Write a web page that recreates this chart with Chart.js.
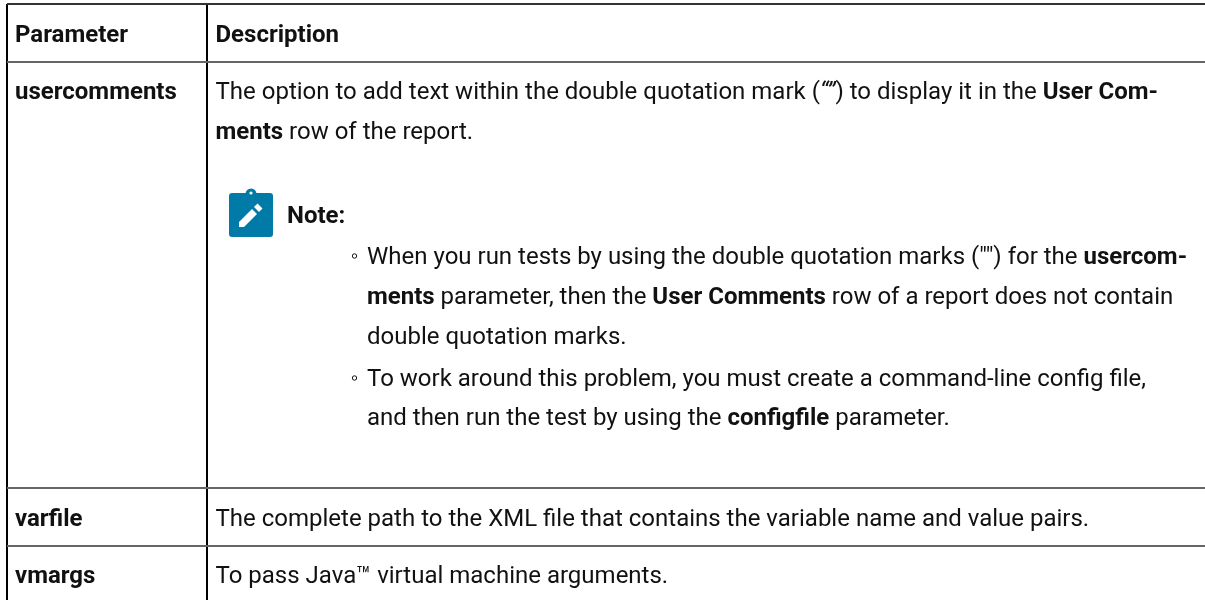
<!DOCTYPE html>
<html><head><meta charset="utf-8">
<style>html,body{margin:0;padding:0;background:#fff}canvas{display:block}</style>
<script src="https://cdn.jsdelivr.net/npm/chart.js@4"></script></head>
<body><canvas id="c" width="1205" height="600"></canvas>
<script>
const columnEdges = [7, 207];
const rowEdges = [4, 62, 488, 546];
const headers = ["Parameter", "Description"];
const parameters = ["usercomments", "varfile", "vmargs"];
const noteLabel = "Note:";
const descriptionLines = [
  [["The option to add text within the double quotation mark (",0],["“”",2],[") to display it in the ",0],["User Com-",1]],
  [["ments",1],[" row of the report.",0]]
];
const noteLines = [
  [["◦ ",0],["When you run tests by using the double quotation marks (\"\") for the ",0],["usercom-",1]],
  [["ments",1],[" parameter, then the ",0],["User Comments",1],[" row of a report does not contain",0]],
  [["double quotation marks.",0]],
  [["◦ ",0],["To work around this problem, you must create a command-line config file,",0]],
  [["and then run the test by using the ",0],["configfile",1],[" parameter.",0]]
];
const varfileText = "The complete path to the XML file that contains the variable name and value pairs.";
const vmargsText = "To pass Java™ virtual machine arguments.";

const FONT = "Roboto, sans-serif", SIZE = 24;
function setFont(ctx, k, size){
  ctx.font = (k===1?"bold ":k===2?"italic ":"") + (size||SIZE) + "px " + FONT;
}
function runs(ctx, x, y, segs){
  for (const [t,k] of segs){ setFont(ctx,k); ctx.fillText(t,x,y); x += ctx.measureText(t).width; }
}
const tablePlugin = {
  id:"tableText",
  afterDraw(chart){
    const ctx = chart.ctx, X = chart.scales.x, Y = chart.scales.y;
    ctx.save();
    ctx.fillStyle = "#111"; ctx.textBaseline = "alphabetic"; ctx.textAlign = "left";
    const c0 = X.getPixelForValue(15), c1 = X.getPixelForValue(215.5);
    setFont(ctx,1);
    ctx.fillText(headers[0], c0, Y.getPixelForValue(42));
    ctx.fillText(headers[1], c1, Y.getPixelForValue(42));
    ctx.fillText(parameters[0], c0, Y.getPixelForValue(99));
    ctx.fillText(parameters[1], c0, Y.getPixelForValue(526));
    ctx.fillText(parameters[2], c0, Y.getPixelForValue(583));
    runs(ctx, c1, Y.getPixelForValue(99), descriptionLines[0]);
    runs(ctx, c1, Y.getPixelForValue(139), descriptionLines[1]);
    // note icon
    ctx.fillStyle = "#007ba7";
    ctx.beginPath(); ctx.roundRect(229,193,44,44,3); ctx.fill();
    ctx.beginPath(); ctx.arc(251,194,5.5,0,Math.PI*2); ctx.fill();
    ctx.fillStyle = "#fff";
    ctx.beginPath(); ctx.arc(251,193,1.6,0,Math.PI*2); ctx.fill();
    ctx.beginPath(); ctx.moveTo(239,222); ctx.lineTo(239,227); ctx.lineTo(244,227);
    ctx.lineTo(257,214); ctx.lineTo(252,209); ctx.closePath(); ctx.fill();
    ctx.beginPath(); ctx.moveTo(254,207); ctx.lineTo(259,212); ctx.lineTo(262.5,208.5); ctx.lineTo(257.5,203.5); ctx.closePath(); ctx.fill();
    ctx.fillStyle = "#111";
    setFont(ctx,1);
    ctx.fillText(noteLabel, 287, 222.5);
    const tx = 367, ys = [264,303.5,344,386,425];
    noteLines.forEach((l,i)=>{
      let segs = l;
      if (l[0][0]==="◦ "){
        ctx.save(); ctx.strokeStyle="#111"; ctx.lineWidth=1;
        ctx.beginPath(); ctx.arc(354.5,ys[i]-8,2.2,0,Math.PI*2); ctx.stroke(); ctx.restore();
        segs = l.slice(1);
      }
      runs(ctx, tx, ys[i], segs);
    });
    setFont(ctx,0);
    ctx.fillText(varfileText, c1, Y.getPixelForValue(526));
    ctx.fillText(vmargsText, c1, Y.getPixelForValue(583));
    ctx.restore();
  }
};
new Chart(document.getElementById("c"),{
  type:"scatter",
  data:{datasets:[{data:[],pointRadius:0}]},
  plugins:[tablePlugin],
  options:{
    responsive:false, animation:false, devicePixelRatio:1,
    layout:{padding:{left:7,top:4,right:0,bottom:0}},
    plugins:{legend:{display:false},tooltip:{enabled:false},title:{display:false}},
    scales:{
      x:{type:"linear",min:7,max:1205,
        afterBuildTicks(s){s.ticks=columnEdges.map(v=>({value:v}));},
        ticks:{display:false},border:{display:false},
        grid:{color:"#000",lineWidth:2,drawTicks:false}},
      y:{type:"linear",min:4,max:600,reverse:true,
        afterBuildTicks(s){s.ticks=rowEdges.map(v=>({value:v}));},
        ticks:{display:false},border:{display:false},
        grid:{color:c=>c.index===0?"#333":"#666",lineWidth:2,drawTicks:false}}
    }
  }
});
</script></body></html>
